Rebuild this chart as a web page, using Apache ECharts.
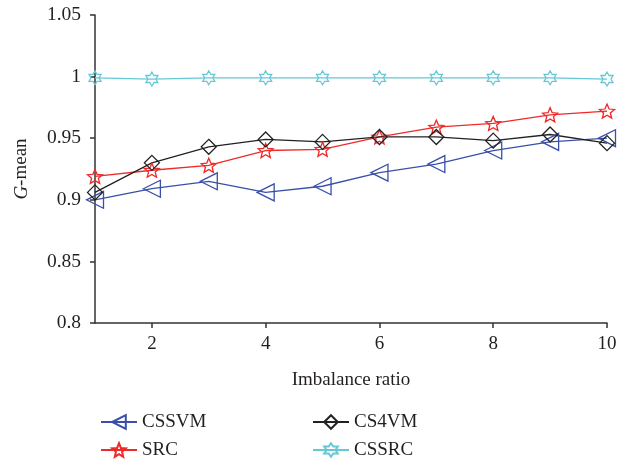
<!DOCTYPE html>
<html>
<head>
<meta charset="utf-8">
<script src="https://cdn.jsdelivr.net/npm/echarts@6/dist/echarts.min.js"></script>
<style>html,body{margin:0;padding:0;background:#fff;}#c{width:632px;height:462px;}</style>
</head>
<body>
<div id="c"></div>
<script>
const ratios = [1, 2, 3, 4, 5, 6, 7, 8, 9, 10];
const cssvm = [0.900, 0.909, 0.915, 0.906, 0.911, 0.922, 0.929, 0.940, 0.947, 0.950];
const src   = [0.919, 0.924, 0.928, 0.940, 0.941, 0.951, 0.959, 0.962, 0.969, 0.972];
const cs4vm = [0.906, 0.930, 0.943, 0.949, 0.947, 0.951, 0.951, 0.948, 0.953, 0.946];
const cssrc = [0.999, 0.998, 0.999, 0.999, 0.999, 0.999, 0.999, 0.999, 0.999, 0.998];
const xTicks = [2, 4, 6, 8, 10];

const starPath = 'path://M0,-1 L0.264,-0.364 L0.951,-0.309 L0.428,0.139 L0.588,0.809 L0,0.45 L-0.588,0.809 L-0.428,0.139 L-0.951,-0.309 L-0.264,-0.364 Z';
const hexPath = 'path://M0,-1 L0.289,-0.5 L0.866,-0.5 L0.577,0 L0.866,0.5 L0.289,0.5 L0,1 L-0.289,0.5 L-0.866,0.5 L-0.577,0 L-0.866,-0.5 L-0.289,-0.5 Z';
const diamondPath = 'path://M0,-1 L1,0 L0,1 L-1,0 Z';

const FONT = 'Liberation Serif';
function pairs(v){ return ratios.map((x,i)=>[x,v[i]]); }
function mk(name, data, color, symbol, size, rotate){
  return {
    name, type:'line', data: pairs(data), symbol, symbolSize:size, symbolRotate: rotate||0,
    showSymbol:true,
    lineStyle:{color, width:1.3},
    itemStyle:{color:'rgba(255,255,255,0)', borderColor:color, borderWidth:1.3},
    emphasis:{disabled:true}, animation:false
  };
}
const legendText = {fontFamily:FONT, fontSize:19, color:'#231f20', lineHeight:20};
const chart = echarts.init(document.getElementById('c'));
chart.setOption({
  animation:false,
  grid:{left:95, right:25, top:15, bottom:139},
  xAxis:{
    type:'value', min:1, max:10,
    name:'Imbalance ratio', nameLocation:'middle', nameGap:48,
    nameTextStyle:{fontFamily:FONT, fontSize:19, color:'#231f20'},
    axisLine:{show:true, lineStyle:{color:'#333', width:1.5}},
    axisTick:{show:true, inside:false, length:5, customValues:xTicks, lineStyle:{color:'#333', width:1.5}},
    axisLabel:{customValues:xTicks, fontFamily:FONT, fontSize:19, color:'#231f20', margin:12},
    splitLine:{show:false}
  },
  yAxis:{
    type:'value', min:0.8, max:1.05, interval:0.05,
    name:'{i|G}-mean', nameLocation:'middle', nameGap:64,
    nameTextStyle:{fontFamily:FONT, fontSize:19, color:'#231f20',
      rich:{i:{fontFamily:FONT, fontSize:19, fontStyle:'italic', color:'#231f20'}}},
    axisLine:{show:true, lineStyle:{color:'#333', width:1.5}},
    axisTick:{show:true, length:5, lineStyle:{color:'#333', width:1.5}},
    axisLabel:{fontFamily:FONT, fontSize:19.5, color:'#231f20', margin:14,
      formatter: v => String(parseFloat(v.toFixed(2)))},
    splitLine:{show:false}
  },
  legend:[
    {left:95, top:407, height:60, orient:'vertical', itemGap:8, itemWidth:36, itemHeight:17,
     textStyle:legendText, data:['CSSVM','SRC'], selectedMode:false},
    {left:307, top:407, height:60, orient:'vertical', itemGap:8, itemWidth:36, itemHeight:17,
     textStyle:legendText, data:['CS4VM','CSSRC'], selectedMode:false}
  ],
  series:[
    mk('CSSVM', cssvm, '#3a50a8', 'triangle', [17,17], 90),
    mk('SRC', src, '#ee2a2a', starPath, [15,14]),
    mk('CS4VM', cs4vm, '#222222', diamondPath, [15,15]),
    mk('CSSRC', cssrc, '#66c8d6', hexPath, [12,14])
  ]
});
</script>
</body>
</html>
